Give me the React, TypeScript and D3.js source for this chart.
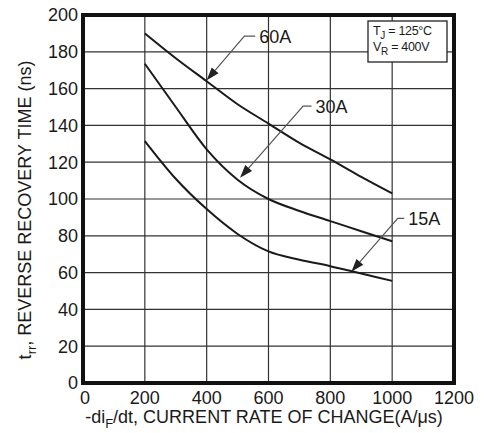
import React from "react";
import * as d3 from "d3";

const xTicks = [0, 200, 400, 600, 800, 1000, 1200];
const yTicks = [0, 20, 40, 60, 80, 100, 120, 140, 160, 180, 200];
const rates = [200, 300, 400, 500, 600, 700, 800, 900, 1000];
const trr60A = [190, 176.5, 164, 151.5, 141, 130.5, 121.5, 112, 103];
const trr30A = [173.5, 150, 127, 110.5, 100, 93.5, 88, 82.5, 77];
const trr15A = [131.5, 111, 94.5, 81, 71.5, 67, 63.5, 59.5, 55.5];
const seriesNames = ["60A", "30A", "15A"];
// annotation: [tipX, tipY, elbowX, elbowY, textX] in data units
const annotations = [
  [400, 164.5, 522, 188.5, 570],
  [508, 111.5, 712, 150.5, 752],
  [868, 60.5, 1018, 89.5, 1052],
];

const W = 484;
const H = 433;

export default function App() {
  const x = d3.scaleLinear().domain([0, 1200]).range([83, 454]);
  const y = d3.scaleLinear().domain([0, 200]).range([383, 15]);
  const line = d3
    .line<number>()
    .x((_, i) => x(rates[i]))
    .y((d) => y(d))
    .curve(d3.curveMonotoneX);
  const series = [trr60A, trr30A, trr15A];
  const font = "'Liberation Sans', Arial, sans-serif";
  const ink = "#1a1a1a";
  const fs = 18;

  return (
    <svg
      width={W}
      height={H}
      style={{ position: "absolute", left: 0, top: 0, background: "#fff" }}
      fontFamily={font}
    >
      <rect x={0} y={0} width={W} height={H} fill="#fff" />
      {/* grid */}
      {xTicks.slice(1, -1).map((t) => (
        <line key={"gx" + t} x1={x(t)} x2={x(t)} y1={y(200)} y2={y(0)} stroke="#333" strokeWidth={1.2} />
      ))}
      {yTicks.slice(1, -1).map((t) => (
        <line key={"gy" + t} x1={x(0)} x2={x(1200)} y1={y(t)} y2={y(t)} stroke="#333" strokeWidth={1.2} />
      ))}
      {/* curves */}
      {series.map((s, i) => (
        <path key={seriesNames[i]} d={line(s) || ""} fill="none" stroke={ink} strokeWidth={2} />
      ))}
      {/* annotations */}
      {annotations.map((a, i) => {
        const tx = x(a[0]);
        const ty = y(a[1]);
        const ex = x(a[2]);
        const ey = y(a[3]);
        const hx = x(a[4]) - 4;
        const dx = ex - tx;
        const dy = ey - ty;
        const len = Math.hypot(dx, dy);
        const ux = dx / len;
        const uy = dy / len;
        const L = 13;
        const Wd = 4.5;
        const bx = tx + ux * L;
        const by = ty + uy * L;
        const p1 = [bx - uy * Wd, by + ux * Wd];
        const p2 = [bx + uy * Wd, by - ux * Wd];
        return (
          <g key={"an" + i}>
            <path d={`M${hx},${ey}L${ex},${ey}L${bx},${by}`} fill="none" stroke="#555" strokeWidth={1.2} />
            <path d={`M${tx},${ty}L${p1[0]},${p1[1]}L${p2[0]},${p2[1]}Z`} fill="#222" />
            <text x={x(a[4])} y={ey} dy="0.36em" fontSize={fs} fill={ink}>
              {seriesNames[i]}
            </text>
          </g>
        );
      })}
      {/* border */}
      <rect x={x(0)} y={y(200)} width={x(1200) - x(0)} height={y(0) - y(200)} fill="none" stroke="#111" strokeWidth={4} />
      {/* conditions box */}
      <rect x={368} y={21} width={79} height={41} fill="#fff" stroke="#222" strokeWidth={1.3} />
      <text x={373} y={35} fontSize={12.5} fill={ink} letterSpacing={-0.3}>
        T<tspan fontSize={10} dy={4}>J</tspan>
        <tspan dy={-4}> = 125°C</tspan>
      </text>
      <text x={373} y={51} fontSize={12.5} fill={ink} letterSpacing={-0.3}>
        V<tspan fontSize={10} dy={4}>R</tspan>
        <tspan dy={-4}> = 400V</tspan>
      </text>
      {/* y tick labels */}
      {yTicks.map((t) => (
        <text key={"yl" + t} x={x(0) - 5} y={y(t)} dy="0.36em" textAnchor="end" fontSize={fs} fill={ink}>
          {t}
        </text>
      ))}
      {/* x tick labels */}
      {xTicks.map((t) => (
        <text key={"xl" + t} x={x(t) + (t === 0 ? 2 : 0)} y={398} dy="0.36em" textAnchor="middle" fontSize={fs} fill={ink}>
          {t}
        </text>
      ))}
      {/* x title */}
      <text x={264} y={417} dy="0.36em" textAnchor="middle" fontSize={fs} fill={ink}>
        -di<tspan fontSize={13} dy={5}>F</tspan>
        <tspan dy={-5}>/dt, CURRENT RATE OF CHANGE(A/μs)</tspan>
      </text>
      {/* y title */}
      <text transform={`translate(25,${210}) rotate(-90)`} textAnchor="middle" dy="0.36em" fontSize={fs} fill={ink}>
        t<tspan fontSize={13} dy={5}>rr</tspan>
        <tspan dy={-5}>, REVERSE RECOVERY TIME (ns)</tspan>
      </text>
    </svg>
  );
}
